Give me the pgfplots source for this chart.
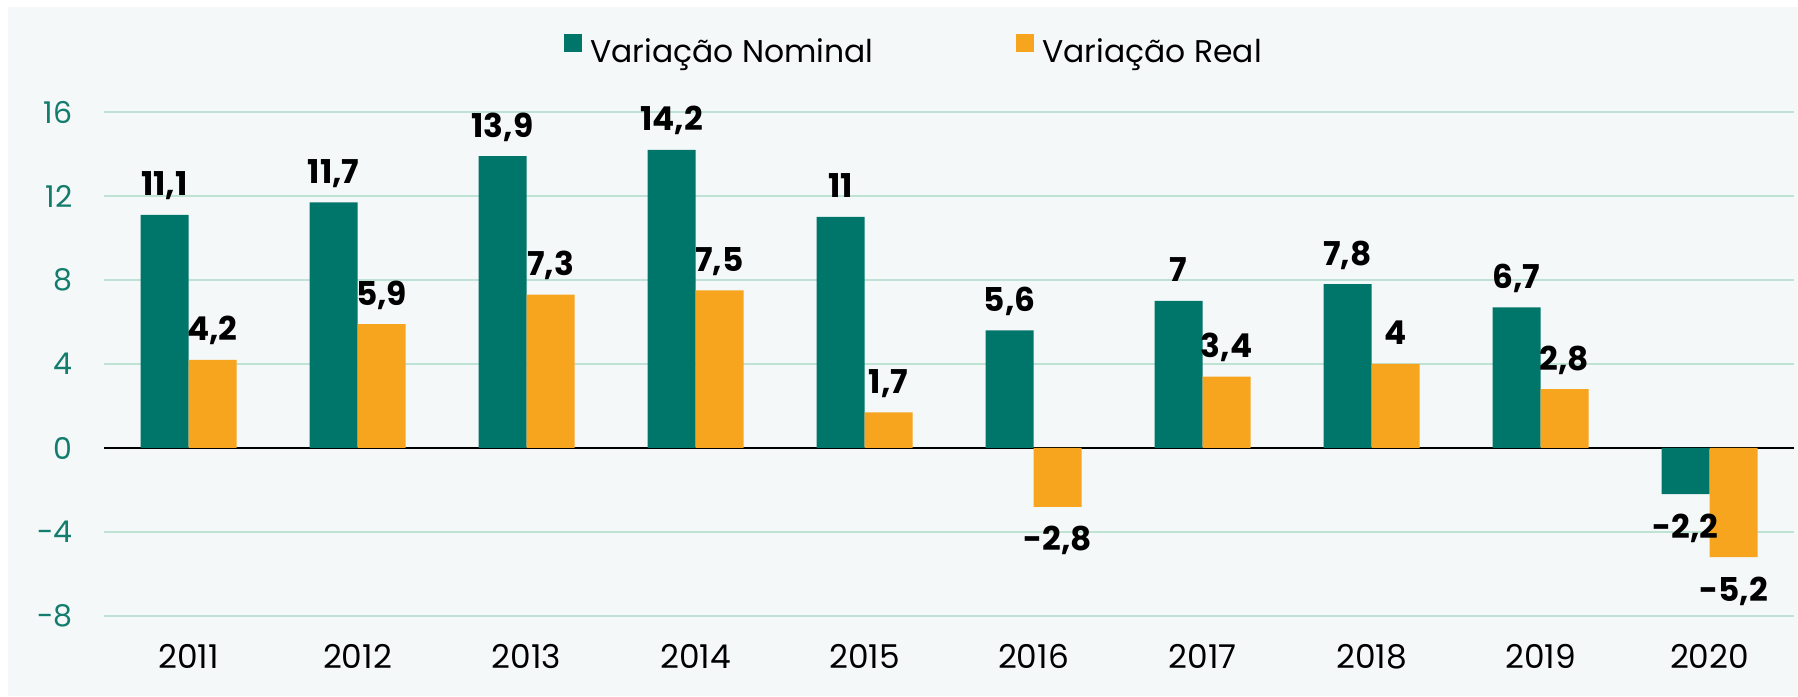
\documentclass[border=0pt]{standalone}
\usepackage{fontspec}
\setmainfont{Poppins}
\usepackage{pgfplots}
\pgfplotsset{compat=1.18}
\usepackage{pgfplotstable}
\definecolor{nom}{HTML}{00766A}
\definecolor{rea}{HTML}{F7A51F}
\definecolor{gridc}{HTML}{BEE3D4}
\definecolor{tickc}{HTML}{137D6D}
\definecolor{panel}{HTML}{F4F8F9}

\pgfplotstableread{
x y lab dy
0 11.1 11,1 9.5
1 11.7 11,7 9.5
2 13.9 13,9 9.5
3 14.2 14,2 9.5
4 11.0 11 9.5
5 5.6 5,6 9.5
6 7.0 7 9.5
7 7.8 7,8 9.5
8 6.7 6,7 9.5
9 -2.2 -2,2 -22
}\nominal

\pgfplotstableread{
x y lab dy
0 4.2 4,2 9.5
1 5.9 5,9 9.5
2 7.3 7,3 9.5
3 7.5 7,5 9.5
4 1.7 1,7 9.5
5 -2.8 -2,8 -22
6 3.4 3,4 9.5
7 4.0 4 9.5
8 2.8 2,8 9.5
9 -5.2 -5,2 -22
}\real

\begin{document}
\begin{tikzpicture}[x=1pt,y=1pt]
\path[use as bounding box] (0,0) rectangle (899,348);
\fill[white] (0,0) rectangle (899,348);
\fill[panel] (4,0) rectangle (899,344.25);
\begin{axis}[
  at={(52pt,40pt)}, anchor=south west,
  scale only axis, width=845pt, height=252pt,
  xmin=-0.5, xmax=9.5, ymin=-8, ymax=16,
  axis line style={draw=none},
  major tick length=0pt,
  ymajorgrids,
  grid style={gridc, line width=1pt},
  ytick={-8,-4,0,4,8,12,16},
  yticklabels={-8,-4,0,4,8,12,16},
  xtick={0,1,2,3,4,5,6,7,8,9},
  xticklabels={2011,2012,2013,2014,2015,2016,2017,2018,2019,2020},
  yticklabel style={font=\fontsize{15}{18}\selectfont, text=tickc, anchor=east, inner sep=0pt, xshift=-15.5pt},
  xticklabel style={font=\fontsize{16.4}{20}\selectfont, anchor=base, inner sep=0pt, yshift=-26pt},
  extra y ticks={0},
  extra y tick labels={},
  extra y tick style={grid style={black, line width=1pt}},
  ybar=0pt, bar width=24pt,
  nodes near coords={\pgfplotspointmeta},
  point meta=explicit symbolic,
  visualization depends on={\thisrow{dy}\as\dy},
  every node near coord/.append style={font=\fontsize{16.4}{20}\selectfont\bfseries, text=black, inner sep=0pt, anchor=base, yshift=\dy pt},
  legend columns=2,
  legend style={at={(rel axis cs:0.2722,1.123)}, anchor=west, draw=none, fill=none, inner sep=0pt, column sep=0pt, nodes={inner sep=0pt}, font=\fontsize{15.7}{19}\selectfont},
  legend image code/.code={\fill[#1] (0pt,0pt) rectangle (9pt,9pt);},
]
\addplot[fill=nom, draw=none] table[x=x, y=y, meta=lab] {\nominal};
\addlegendentry{\hspace{4pt}\makebox[213pt][l]{Variação Nominal}}
\addplot[fill=rea, draw=none] table[x=x, y=y, meta=lab] {\real};
\addlegendentry{\hspace{4pt}Variação Real}
\end{axis}
\end{tikzpicture}
\end{document}
